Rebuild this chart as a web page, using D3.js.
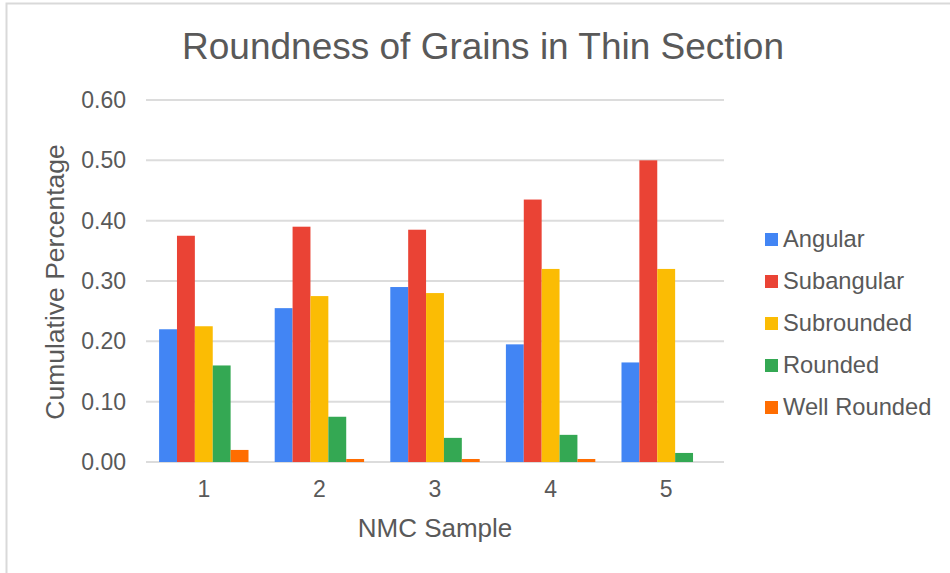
<!DOCTYPE html>
<html>
<head>
<meta charset="utf-8">
<script src="https://cdn.jsdelivr.net/npm/d3@7"></script>
<style>
  html, body { margin: 0; padding: 0; background: #fff; }
  svg { display: block; font-family: "Liberation Sans", Arial, sans-serif; }
</style>
</head>
<body>
<svg id="chart" width="950" height="573"></svg>
<script>
const samples = ["1", "2", "3", "4", "5"];
const seriesNames = ["Angular", "Subangular", "Subrounded", "Rounded", "Well Rounded"];
const angular     = [0.220, 0.255, 0.290, 0.195, 0.165];
const subangular  = [0.375, 0.390, 0.385, 0.435, 0.500];
const subrounded  = [0.225, 0.275, 0.280, 0.320, 0.320];
const rounded     = [0.160, 0.075, 0.040, 0.045, 0.015];
const wellRounded = [0.020, 0.005, 0.005, 0.005, 0.000];
const yTicks = [0, 0.1, 0.2, 0.3, 0.4, 0.5, 0.6];
const colors = ["#4285F4", "#EA4335", "#FBBC04", "#34A853", "#FF6D01"];
const chartTitle = "Roundness of Grains in Thin Section";
const xTitle = "NMC Sample";
const yTitle = "Cumulative Percentage";

const seriesValues = [angular, subangular, subrounded, rounded, wellRounded];
const textColor = "#595959";

const svg = d3.select("#chart");

// outer border (top and left visible)
svg.append("rect")
  .attr("x", 6.5).attr("y", 3.5)
  .attr("width", 1000).attr("height", 700)
  .attr("fill", "none").attr("stroke", "#d9d9d9").attr("stroke-width", 2);

const plot = { left: 146, right: 724, top: 100, bottom: 462 };

const x0 = d3.scaleBand().domain(samples)
  .range([plot.left, plot.right])
  .paddingInner(0.2266).paddingOuter(0.1133);
const x1 = d3.scaleBand().domain(seriesNames)
  .range([0, x0.bandwidth()]).padding(0);
const y = d3.scaleLinear().domain([0, 0.6]).range([plot.bottom, plot.top]);

// gridlines
svg.append("g").selectAll("line").data(yTicks).join("line")
  .attr("x1", plot.left).attr("x2", plot.right)
  .attr("y1", d => y(d)).attr("y2", d => y(d))
  .attr("stroke", "#dcdcdc").attr("stroke-width", 2);

// y axis labels
const yAxis = d3.axisLeft(y).tickValues(yTicks).tickFormat(d3.format(".2f")).tickSize(0).tickPadding(0);
const gy = svg.append("g").attr("transform", `translate(126,0)`).call(yAxis);
gy.select(".domain").remove();
gy.selectAll("text").attr("font-size", 23).attr("fill", textColor)
  .attr("font-family", "Liberation Sans, Arial, sans-serif");

// x axis labels
const xAxis = d3.axisBottom(x0).tickSize(0).tickPadding(0);
const gx = svg.append("g").attr("transform", `translate(0,481)`).call(xAxis);
gx.select(".domain").remove();
gx.selectAll("text").attr("font-size", 23).attr("fill", textColor)
  .attr("font-family", "Liberation Sans, Arial, sans-serif");

// bars
const groups = svg.append("g").selectAll("g").data(samples).join("g")
  .attr("transform", d => `translate(${x0(d)},0)`);
groups.selectAll("rect")
  .data((s, i) => seriesNames.map((name, k) => ({ name, k, v: seriesValues[k][i] })))
  .join("rect")
  .attr("x", d => x1(d.name))
  .attr("width", x1.bandwidth())
  .attr("y", d => y(d.v))
  .attr("height", d => y(0) - y(d.v))
  .attr("fill", d => colors[d.k]);

// title
svg.append("text")
  .attr("x", 483).attr("y", 59)
  .attr("text-anchor", "middle")
  .attr("font-size", 37).attr("fill", textColor)
  .text(chartTitle);

// axis titles
svg.append("text")
  .attr("x", 435).attr("y", 537)
  .attr("text-anchor", "middle")
  .attr("font-size", 26).attr("fill", textColor)
  .text(xTitle);

svg.append("text")
  .attr("transform", "translate(64,282) rotate(-90)")
  .attr("text-anchor", "middle")
  .attr("font-size", 26.5).attr("fill", textColor)
  .text(yTitle);

// legend
const legend = svg.append("g").selectAll("g").data(seriesNames).join("g")
  .attr("transform", (d, i) => `translate(765,${239 + i * 42})`);
legend.append("rect")
  .attr("x", 0).attr("y", -6).attr("width", 13).attr("height", 13)
  .attr("fill", (d, i) => colors[i]);
legend.append("text")
  .attr("x", 18).attr("y", 0).attr("dy", "0.35em")
  .attr("font-size", 23.7).attr("fill", textColor)
  .text(d => d);
</script>
</body>
</html>
